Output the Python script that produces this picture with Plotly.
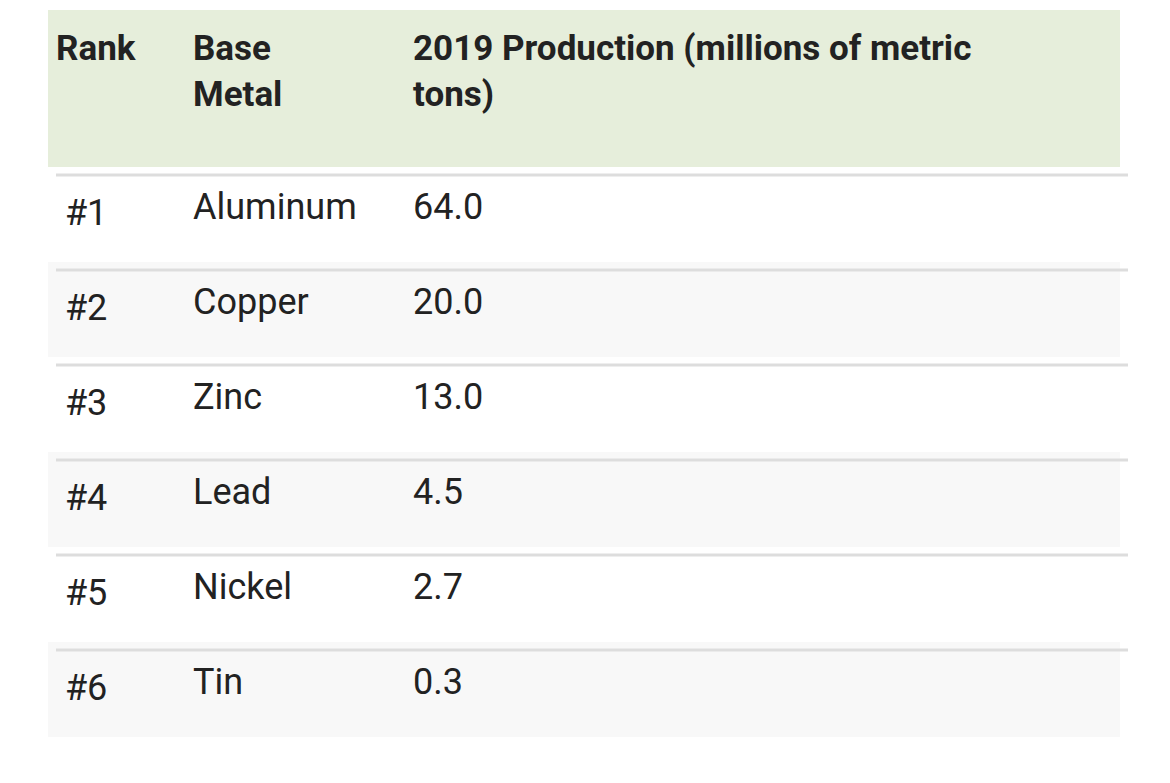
import plotly.graph_objects as go

ranks = ['#1', '#2', '#3', '#4', '#5', '#6']
metals = ['Aluminum', 'Copper', 'Zinc', 'Lead', 'Nickel', 'Tin']
production = ['64.0', '20.0', '13.0', '4.5', '2.7', '0.3']
headers = ['<br><b>Rank</b>', '<b>Base<br>Metal</b>', '<b>2019 Production (millions of metric<br>tons)</b>']

W, H = 1170, 783
top, header_h, row_h = 10, 157, 95
bottom = top + header_h + row_h * len(ranks)
off = 8  # plotly draws the table a few px inside its domain
left, right = 48 - off, 1120 - off

row_fill = ['white' if i % 2 == 0 else '#f8f8f8' for i in range(len(ranks))]
widths = [137, 220, 715]

def ydom(t, b):
    return [1 - b / H, 1 - t / H]

fig = go.Figure()

# backgrounds only
fig.add_trace(go.Table(
    domain=dict(x=[left / W, right / W], y=ydom(top - off, bottom - off)),
    columnwidth=widths,
    header=dict(values=['', '', ''], fill_color='#e6eedb', line=dict(width=0), height=header_h),
    cells=dict(values=[[''] * 6] * 3, fill_color=[row_fill] * 3, line=dict(width=0), height=row_h),
))

# text, shifted down to sit in the middle of each row
shift = 10
fig.add_trace(go.Table(
    domain=dict(x=[left / W, right / W], y=ydom(top - off + shift, bottom - off + 17)),
    columnwidth=widths,
    header=dict(
        values=headers,
        fill_color='rgba(0,0,0,0)',
        line=dict(width=0),
        align='left',
        height=header_h + 7,
        font=dict(family='Roboto', size=35, color='#222'),
    ),
    cells=dict(
        values=[['&nbsp;' + r for r in ranks], metals, production],
        fill_color='rgba(0,0,0,0)',
        line=dict(width=0),
        align='left',
        height=row_h,
        font=dict(family='Roboto', size=36, color='#222'),
    ),
))

shapes = []
for i in range(len(ranks)):
    y = top + header_h + row_h * i
    shapes.append(dict(type='line', xref='paper', yref='paper',
                       x0=48 / W, x1=1120 / W, y0=1 - y / H, y1=1 - y / H,
                       line=dict(color='#dddddd', width=3)))

fig.update_layout(width=W, height=H, margin=dict(l=0, r=0, t=0, b=0),
                  paper_bgcolor='white', shapes=shapes)
fig.write_html('out.html')
